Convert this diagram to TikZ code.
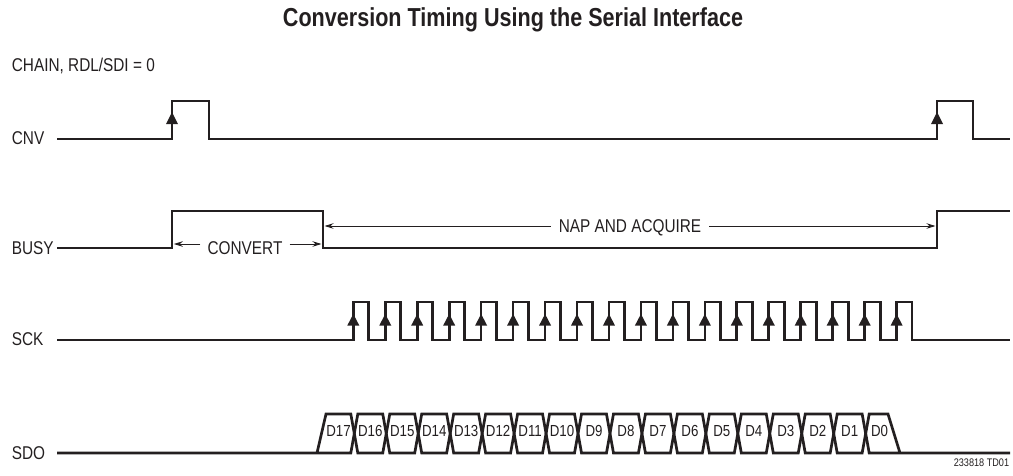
\documentclass[tikz,border=0pt]{standalone}
\usepackage{fontspec}
\setmainfont[FakeStretch=0.83]{Liberation Sans}
\usetikzlibrary{arrows.meta}
\definecolor{ink}{RGB}{35,31,32}
\begin{document}
\begin{tikzpicture}[x=1pt,y=-1pt,
  every node/.style={text=ink},
  sig/.style={draw=ink, line width=2.7pt, line join=miter, line cap=butt},
  dimarrow/.style={draw=ink, line width=1pt, -{Stealth[length=9pt,width=5.5pt]}},
  lbl/.style={inner sep=0pt, font=\fontsize{18.5}{20}\selectfont},
  bitlbl/.style={inner sep=0pt, anchor=base, font=\fontsize{16}{18}\selectfont},
  edgetip/.style={fill=ink}]
\useasboundingbox (0,0) rectangle (1013,475);

% title and header
\node[anchor=base, inner sep=0pt, font=\fontsize{26}{28}\selectfont\bfseries] (title) at (513,26.5) {Conversion Timing Using the Serial Interface};
\node[lbl, anchor=base west] (cond) at (11.7,71.7) {CHAIN, RDL/SDI = 0};

% signal names
\node[lbl, anchor=base west] (cnvlbl) at (11.7,144.5) {CNV};
\node[lbl, anchor=base west] (busylbl) at (11.7,254.5) {BUSY};
\node[lbl, anchor=base west] (scklbl) at (11.7,345.5) {SCK};
\node[lbl, anchor=base west] (sdolbl) at (11.7,459.5) {SDO};

% CNV
\draw[sig] (57,139) -- (172,139) -- (172,101) -- (209,101) -- (209,139) -- (937,139) -- (937,101) -- (973,101) -- (973,139) -- (1010,139);
\fill[edgetip] (172,112) -- (178,124) -- (166,124) -- cycle;
\fill[edgetip] (937,112) -- (943,124) -- (931,124) -- cycle;

% BUSY
\draw[sig] (57,248) -- (172,248) -- (172,211) -- (323,211) -- (323,248) -- (937,248) -- (937,211) -- (1010,211);

% CONVERT annotation
\node[lbl, anchor=base, inner xsep=7pt] (conv) at (245,254) {CONVERT};
\coordinate (convL) at (173.8,244);
\coordinate (convR) at (321.5,244);
\draw[dimarrow] (conv.west |- convL) -- (convL);
\draw[dimarrow] (conv.east |- convR) -- (convR);

% NAP AND ACQUIRE annotation
\node[lbl, anchor=base, inner xsep=8pt] (nap) at (630,232.5) {NAP AND ACQUIRE};
\coordinate (napL) at (324.5,226);
\coordinate (napR) at (935.5,226);
\draw[dimarrow] (nap.west |- napL) -- (napL);
\draw[dimarrow] (nap.east |- napR) -- (napR);

% SCK
\draw[sig] (57,340) \foreach \k in {0,...,17} { -- ({353.3+31.96*\k},340) -- ++(0,-38) -- ++(15.5,0) -- ++(0,38) } -- (1010,340);
\foreach \k in {0,...,17} {
  \fill[edgetip] ({353.3+31.96*\k},314) -- ++(6,11.5) -- ++(-12,0) -- cycle;
}

% SDO
\def\h{3.5}
\draw[sig] (57,453) -- ({354.3-\h},453) -- (354.3,433.5) -- ({354.3-\h},414) -- (326,414) -- (317,453);
\foreach \k in {1,...,16} {
  \pgfmathsetmacro{\ca}{354.3+31.96*(\k-1)}
  \pgfmathsetmacro{\cb}{354.3+31.96*\k}
  \draw[sig] (\ca,433.5) -- ({\ca+\h},414) -- ({\cb-\h},414) -- (\cb,433.5) -- ({\cb-\h},453) -- ({\ca+\h},453) -- cycle;
}
\draw[sig] (1010,453) -- ({865.7+\h},453) -- (865.7,433.5) -- ({865.7+\h},414) -- (888,414) -- (900,453);

\node[bitlbl] (d17) at (338.5,436.7) {D17};
\foreach \k in {1,...,16} {
  \pgfmathtruncatemacro{\bitnum}{17-\k}
  \node[bitlbl] (d\bitnum) at ({354.3+31.96*(\k-1)+16},436.7) {D\bitnum};
}
\node[bitlbl] (d0) at (879.5,436.7) {D0};

% figure id
\node[anchor=base east, inner sep=0pt, font=\fontsize{11}{12}\selectfont] (figid) at (1009.3,466) {233818 TD01};
\end{tikzpicture}
\end{document}
